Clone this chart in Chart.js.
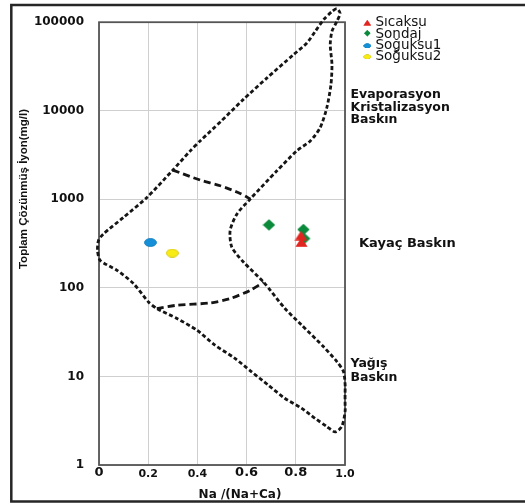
<!DOCTYPE html>
<html>
<head>
<meta charset="utf-8">
<script src="https://cdn.jsdelivr.net/npm/chart.js@4.4.1/dist/chart.umd.min.js"></script>
<style>
  html, body { margin: 0; padding: 0; background: #fff; }
  #wrap { width: 525px; height: 504px; }
</style>
</head>
<body>
<div id="wrap"><canvas id="gibbs" width="525" height="504"></canvas></div>
<script>
// Axis ticks
const xTicks = [0, 0.2, 0.4, 0.6, 0.8, 1.0];
const xTickLabels = ['0', '0.2', '0.4', '0.6', '0.8', '1.0'];
const yTicks = [1, 10, 100, 1000, 10000, 100000];

// Sample groups: [Na/(Na+Ca), TDS mg/l]
const seriesNames = ['Sıcaksu', 'Sondaj', 'Soğuksu1', 'Soğuksu2'];
const sicaksu = [[0.821, 390], [0.823, 328]];
const sondaj = [[0.691, 514], [0.831, 456], [0.834, 361]];
const soguksu1 = [[0.209, 325]];
const soguksu2 = [[0.298, 247]];

// Gibbs envelope (closed outline) and the two dividing lines
const envelope = [
  [0.493, 7465], [0.411, 4565], [0.371, 3524], [0.300, 2138], [0.195, 1051],
  [0.100, 627], [0.018, 407], [-0.002, 343], [-0.006, 264], [0.005, 204],
  [0.073, 158], [0.140, 112], [0.201, 69.3], [0.235, 58.4], [0.317, 45.1],
  [0.398, 33.3], [0.470, 22.7], [0.551, 16.1], [0.619, 11.35], [0.687, 8.02],
  [0.755, 5.67], [0.823, 4.38], [0.878, 3.37], [0.926, 2.72], [0.960, 2.36],
  [0.987, 2.72], [1.001, 4.20], [1.001, 7.67], [0.994, 11.3], [0.967, 14.7],
  [0.913, 21.6], [0.823, 38.2], [0.755, 58.9], [0.669, 116], [0.587, 196],
  [0.540, 288], [0.533, 444], [0.561, 684], [0.615, 1009], [0.723, 2098],
  [0.804, 3524], [0.859, 4565], [0.899, 6440], [0.926, 10810], [0.943, 19820],
  [0.947, 33270], [0.940, 55860], [0.947, 78800], [0.967, 102100], [0.980, 126500],
  [0.967, 141900], [0.947, 132200], [0.913, 106700], [0.879, 78800], [0.845, 58200],
  [0.791, 43100], [0.683, 23500], [0.587, 13440], [0.493, 7465]
];
const upperDivide = [[0.300, 2138], [0.411, 1650], [0.493, 1424], [0.574, 1166], [0.615, 1009]];
const lowerDivide = [[0.235, 58.4], [0.317, 63.7], [0.452, 67.6], [0.533, 75.7], [0.615, 93.9], [0.669, 116]];

// Zone captions
const zoneEvap = ['Evaporasyon', 'Kristalizasyon', 'Baskın'];
const zoneRock = ['Kayaç Baskın'];
const zoneRain = ['Yağış', 'Baskın'];
const xTitle = 'Na /(Na+Ca)';
const yTitle = 'Toplam Çözünmüş İyon(mg/l)';

const toXY = arr => arr.map(([x, y]) => ({ x, y }));

// Marker sprites
function sprite(kind, w, h, fill, stroke) {
  const c = document.createElement('canvas');
  c.width = w; c.height = h;
  const g = c.getContext('2d');
  g.fillStyle = fill;
  g.strokeStyle = stroke;
  g.lineWidth = 0.8;
  g.beginPath();
  if (kind === 'ellipse') {
    g.ellipse(w / 2, h / 2, w / 2 - 0.5, h / 2 - 0.5, 0, 0, Math.PI * 2);
  } else if (kind === 'diamond') {
    g.moveTo(w / 2, 0.3); g.lineTo(w - 0.3, h / 2); g.lineTo(w / 2, h - 0.3); g.lineTo(0.3, h / 2); g.closePath();
  } else {
    g.moveTo(w / 2, 0.3); g.lineTo(w - 0.3, h - 0.3); g.lineTo(0.3, h - 0.3); g.closePath();
  }
  g.fill();
  if (stroke) g.stroke();
  return c;
}
const mkTri = sprite('triangle', 13, 10, '#e1251f', null);
const mkDia = sprite('diamond', 13, 12, '#0b8a3b', null);
const mkBlue = sprite('ellipse', 13, 9, '#1590d8', '#0f7ab9');
const mkYel = sprite('ellipse', 13, 9, '#f8ec14', '#cfc000');
const markers = [mkTri, mkDia, mkBlue, mkYel];

const FAM = "'DejaVu Sans', Verdana, sans-serif";

const decor = {
  id: 'decor',
  beforeDraw(chart) {
    const ctx = chart.ctx;
    ctx.save();
    ctx.fillStyle = '#fff';
    ctx.fillRect(0, 0, chart.width, chart.height);
    ctx.strokeStyle = '#262626';
    ctx.lineWidth = 2.5;
    ctx.beginPath();
    ctx.moveTo(525, 5);
    ctx.lineTo(11.3, 5);
    ctx.lineTo(11.3, 501.5);
    ctx.lineTo(525, 501.5);
    ctx.stroke();
    ctx.restore();
  },
  beforeDatasetsDraw(chart) {
    const ctx = chart.ctx, a = chart.chartArea;
    ctx.save();
    ctx.strokeStyle = '#555';
    ctx.lineWidth = 1.8;
    ctx.strokeRect(a.left, a.top, a.right - a.left, a.bottom - a.top);
    ctx.restore();
  },
  afterDraw(chart) {
    const ctx = chart.ctx;
    ctx.save();
    ctx.fillStyle = '#111';
    ctx.textAlign = 'left';
    ctx.textBaseline = 'alphabetic';
    ctx.font = 'bold 12.5px ' + FAM;
    [98.3, 110.8, 123.3].forEach((y, i) => ctx.fillText(zoneEvap[i], 350.5, y));
    [366.7, 381].forEach((y, i) => ctx.fillText(zoneRain[i], 350.5, y));
    ctx.font = 'bold 13px ' + FAM;
    ctx.fillText(zoneRock[0], 359, 246.7);

    // x title
    ctx.font = 'bold 12px ' + FAM;
    ctx.textAlign = 'center';
    ctx.fillText(xTitle, 240, 498);

    // y title
    ctx.save();
    ctx.translate(24, 189);
    ctx.rotate(-Math.PI / 2);
    ctx.font = "bold 11.5px 'Liberation Sans', Arial, sans-serif";
    ctx.textBaseline = 'middle';
    ctx.fillText(yTitle, 0, 0);
    ctx.restore();

    // legend
    const rows = [22.5, 33.2, 45.8, 56.8];
    const sizes = [[8, 6], [7, 7], [8, 5], [8, 5]];
    ctx.font = '13.5px ' + FAM;
    ctx.textAlign = 'left';
    ctx.textBaseline = 'alphabetic';
    seriesNames.forEach((name, i) => {
      const [w, h] = sizes[i];
      ctx.drawImage(markers[i], 367.3 - w / 2, rows[i] - h / 2, w, h);
      ctx.fillText(name, 375.5, [26, 37.7, 49.3, 60][i]);
    });
    ctx.restore();
  }
};

const curve = (data, dash, order) => ({
  type: 'scatter',
  data: toXY(data),
  showLine: true,
  pointRadius: 0,
  borderColor: '#151515',
  borderWidth: 2.8,
  borderDash: dash,
  borderCapStyle: 'butt',
  tension: 0.25,
  clip: false,
  order
});

const pts = (label, data, img, order) => ({
  type: 'scatter',
  label,
  data: toXY(data),
  pointStyle: img,
  pointRadius: 6,
  order
});

new Chart(document.getElementById('gibbs'), {
  type: 'scatter',
  data: {
    datasets: [
      pts(seriesNames[0], sicaksu, mkTri, 0),
      pts(seriesNames[1], sondaj, mkDia, 1),
      pts(seriesNames[2], soguksu1, mkBlue, 2),
      pts(seriesNames[3], soguksu2, mkYel, 3),
      curve(envelope, [4, 2.5], 10),
      curve(upperDivide, [7, 4], 11),
      curve(lowerDivide, [7, 4], 12)
    ]
  },
  options: {
    responsive: false,
    animation: false,
    events: [],
    layout: { padding: { top: 21, right: 180, left: 0, bottom: 0 } },
    plugins: { legend: { display: false }, tooltip: { enabled: false } },
    scales: {
      x: {
        type: 'linear',
        min: 0,
        max: 1,
        afterBuildTicks: s => { s.ticks = xTicks.map(v => ({ value: v })); },
        afterFit: s => { s.height = 39; },
        grid: { color: '#cfcfcf', lineWidth: 1, drawTicks: false },
        border: { display: false },
        ticks: {
          autoSkip: false,
          maxRotation: 0,
          padding: 0,
          color: '#111',
          callback: (v, i) => xTickLabels[i],
          font: c => {
            const big = [0, 3, 4].includes(c.index);
            return big
              ? { family: FAM, size: 13, weight: 'bold', lineHeight: '15.6px' }
              : { family: FAM, size: 11, weight: 'bold', lineHeight: '19px' };
          }
        }
      },
      y: {
        type: 'logarithmic',
        min: 1,
        max: 100000,
        afterBuildTicks: s => { s.ticks = yTicks.map(v => ({ value: v })); },
        afterFit: s => { s.width = 99; },
        grid: { color: '#cfcfcf', lineWidth: 1, drawTicks: false },
        border: { display: false },
        ticks: {
          autoSkip: false,
          padding: 15,
          color: '#111',
          callback: v => String(v),
          font: { family: FAM, size: 12, weight: 'bold' }
        }
      }
    }
  },
  plugins: [decor]
});
</script>
</body>
</html>
